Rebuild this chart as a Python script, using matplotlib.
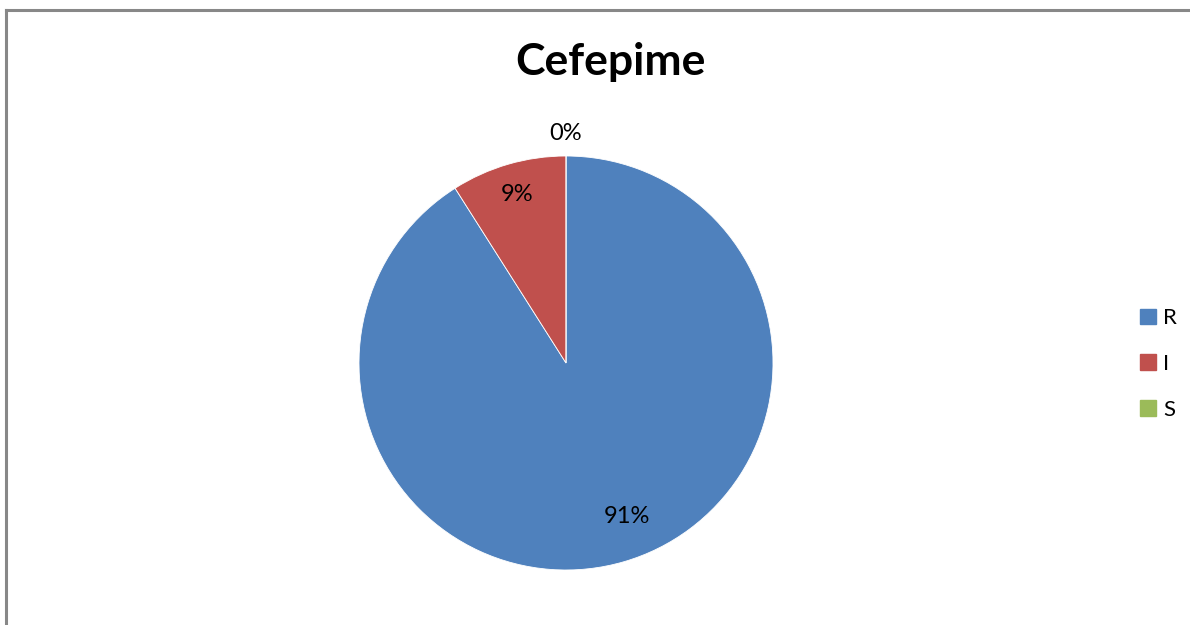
import numpy as np
import matplotlib.pyplot as plt
from matplotlib.lines import Line2D

categories = ["R", "I", "S"]
values = [91, 9, 0]
colors = ["#4F81BD", "#C0504D", "#9BBB59"]
# label placement: distance from centre (radii) and angular nudge (deg)
label_radius = [0.80, 0.85, 1.11]
label_nudge = [5.4, 0.0, 0.0]

plt.rcParams["font.family"] = ["Lato", "DejaVu Sans"]

W, H = 1190, 625
fig = plt.figure(figsize=(W / 100, H / 100), dpi=100)

# pie axes: centre (566, 363) px, radius 207 px
cx, cy, r = 566, 363, 207
ax = fig.add_axes([(cx - r) / W, (H - cy - r) / H, 2 * r / W, 2 * r / H])
wedges, _ = ax.pie(values, colors=colors, startangle=90, counterclock=False,
                   wedgeprops=dict(edgecolor="white", linewidth=0.6))
ax.set_xlim(-1, 1)
ax.set_ylim(-1, 1)
ax.set_aspect("auto")
ax.axis("off")

total = sum(values)
for w, v, rad, nudge in zip(wedges, values, label_radius, label_nudge):
    mid = np.deg2rad((w.theta1 + w.theta2) / 2 + nudge)
    ax.text(rad * np.cos(mid), rad * np.sin(mid), f"{round(100 * v / total)}%",
            ha="center", va="center", fontsize=17, color="black")

fig.text(610 / W, (H - 62) / H, "Cefepime", ha="center", va="center",
         fontsize=32, fontweight="bold")

handles = [plt.Rectangle((0, 0), 1, 1, color=c) for c in colors]
fig.legend(handles, categories, loc="center left",
           bbox_to_anchor=(1120 / W, (H - 364) / H), frameon=False,
           fontsize=16, handlelength=0.7, handleheight=0.7, handletextpad=0.35,
           labelspacing=1.15)

# chart-area border (left and top edges)
fig.add_artist(Line2D([6 / W, 6 / W], [0, (H - 10) / H], color="#888888",
                      linewidth=2.2, transform=fig.transFigure))
fig.add_artist(Line2D([6 / W, 1], [(H - 10) / H, (H - 10) / H], color="#888888",
                      linewidth=2.2, transform=fig.transFigure))

fig.savefig("out.png", dpi=100)
